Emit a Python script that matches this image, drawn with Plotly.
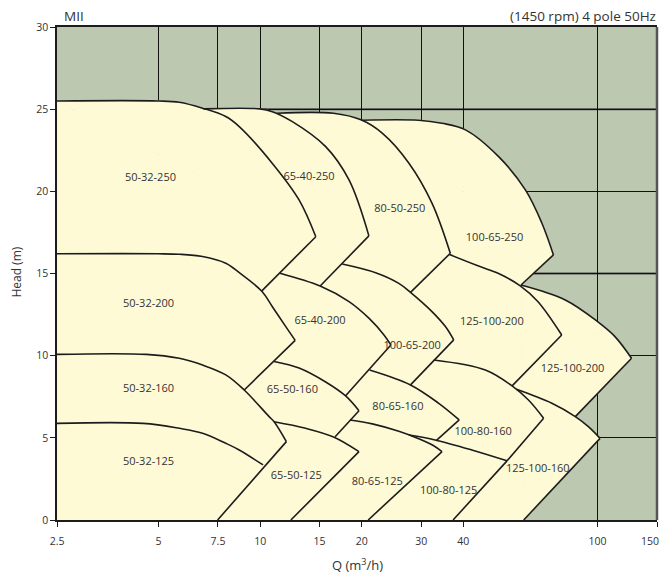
import math
import plotly.graph_objects as go

# ---------------- values (Q in m3/h, H in m) ----------------
# upper (max impeller) curve of each pump, ending at its chevron tip
top_50_32_250 = [(2.5, 25.5), (5.0, 25.5), (5.76, 25.42), (6.75, 25.06), (7.91, 24.55), (8.67, 23.94),
                 (10.87, 21.7), (13.04, 19.48), (14.62, 17.24)]
top_50_32_200 = [(2.5, 16.2), (5.0, 16.2), (5.76, 16.17), (6.75, 16.03), (7.91, 15.62), (8.67, 15.05),
                 (10.1, 13.93), (10.87, 12.98), (11.91, 11.77), (12.7, 10.93)]
top_50_32_160 = [(2.5, 10.08), (4.6, 10.08), (5.76, 9.84), (6.75, 9.43), (7.91, 8.83), (8.97, 7.91),
                 (10.63, 6.29), (11.0, 5.98), (11.96, 4.77)]
top_50_32_125 = [(2.5, 5.88), (4.5, 5.88), (5.76, 5.58), (6.75, 5.28), (7.91, 4.67), (8.67, 4.26), (10.2, 3.35)]

top_65_40_250 = [(6.8, 25.02), (9.97, 25.02), (10.87, 24.85), (12.46, 24.24), (15.64, 22.72), (18.34, 20.69),
                 (21.0, 17.29)]
top_65_40_200 = [(11.45, 15.02), (15.06, 14.24), (18.34, 13.29), (21.0, 12.28), (23.28, 11.26), (24.4, 10.65)]
top_65_50_160 = [(11.0, 9.65), (13.04, 9.25), (15.64, 8.4), (17.92, 7.55), (19.63, 6.65)]
top_65_50_125 = [(11.0, 5.98), (13.65, 5.58), (16.5, 5.05), (19.63, 4.16)]

top_80_50_250 = [(11.2, 24.75), (16.5, 24.75), (19.9, 24.35), (23.0, 23.54), (27.6, 21.71), (32.3, 19.28),
                 (36.6, 16.23)]
top_100_65_200 = [(17.51, 15.58), (21.99, 15.05), (25.76, 14.4), (27.9, 13.85), (32.3, 12.68), (35.4, 11.77),
                  (37.47, 10.96)]
top_80_65_160 = [(21.1, 9.13), (27.9, 8.22), (33.83, 7.1), (38.9, 6.09)]
top_80_65_125 = [(18.45, 6.09), (21.5, 5.85), (25.76, 5.4), (29.5, 4.95), (32.5, 4.55), (34.6, 4.16)]

top_100_65_250 = [(19.9, 24.33), (29.5, 24.33), (34.6, 24.14), (40.6, 23.74), (50.9, 22.11), (61.1, 20.09),
                  (68.4, 18.06), (74.0, 16.13)]
top_125_100_200a = [(36.4, 16.15), (44.4, 15.45), (50.9, 15.0), (59.0, 14.25), (66.5, 13.3), (78.3, 11.26)]
top_100_80_160 = [(32.7, 9.74), (46.5, 9.13), (55.8, 8.16), (62.4, 7.3), (69.2, 6.19)]
top_100_80_125 = [(27.6, 5.17), (33.0, 4.87), (42.4, 4.26), (53.9, 3.6)]

top_125_100_200b = [(59.3, 14.3), (80.2, 13.39), (100.0, 12.07), (112.6, 11.16), (126.1, 9.84)]
top_125_100_160 = [(57.5, 7.95), (73.2, 7.1), (85.9, 6.29), (93.9, 5.68), (101.7, 4.97)]

# straight chevron edges (from tip down-left)
low_50_32_250 = [(14.62, 17.24), (10.1, 13.93)]
low_50_32_200 = [(12.7, 10.93), (8.97, 7.91)]
low_50_32_160 = [(11.96, 4.77), (7.48, 0.0)]
low_65_40_250 = [(21.0, 17.29), (15.06, 14.24)]
low_65_40_200 = [(24.4, 10.65), (17.92, 7.56)]
low_65_50_160 = [(19.63, 6.65), (16.68, 5.07)]
low_65_50_125 = [(19.63, 4.16), (12.33, 0.0)]
low_80_50_250 = [(36.6, 16.23), (27.9, 13.85)]
low_100_65_200 = [(37.47, 10.96), (27.9, 8.22)]
low_80_65_160 = [(38.9, 6.09), (33.3, 4.85)]
low_80_65_125 = [(34.6, 4.16), (20.9, 0.0)]
low_100_65_250 = [(74.0, 16.13), (59.3, 14.3)]
low_125_100_200a = [(78.3, 11.26), (55.8, 8.16)]
low_100_80_160 = [(69.2, 6.19), (53.9, 3.6)]
low_100_80_125 = [(53.9, 3.6), (37.3, 0.0)]
low_125_100_200b = [(126.1, 9.84), (85.9, 6.29)]
low_125_100_160 = [(101.7, 4.97), (60.4, 0.0)]

label_names = ["50-32-250", "65-40-250", "80-50-250", "100-65-250",
               "50-32-200", "65-40-200", "100-65-200", "125-100-200", "125-100-200",
               "50-32-160", "65-50-160", "80-65-160", "100-80-160", "125-100-160",
               "50-32-125", "65-50-125", "80-65-125", "100-80-125"]
label_q = [4.73, 13.96, 25.94, 49.5, 4.67, 15.04, 28.2, 48.6, 84.3,
           4.67, 12.46, 25.6, 45.8, 66.5, 4.67, 12.8, 22.24, 36.2]
label_h = [20.82, 20.88, 18.91, 17.15, 13.13, 12.07, 10.59, 12.01, 9.19,
           7.97, 7.87, 6.84, 5.37, 3.1, 3.49, 2.68, 2.29, 1.72]

x_tick_values = [2.5, 5, 7.5, 10, 15, 20, 30, 40, 100, 150]
x_tick_labels = ["2.5", "5", "7.5", "10", "15", "20", "30", "40", "100", ""]
x_end_label = "150"   # last tick label: drawn just left of the axis end, as in the original
y_tick_values = [0, 5, 10, 15, 20, 25, 30]
Q_MIN, Q_MAX = 2.5, 150
H_MIN, H_MAX = 0, 30

# ---------------- styling ----------------
BG = "#BCC8B0"
YELLOW = "#FFFAD6"
INK = "#1C1C1C"
TXT = "#333333"
FONT = "Open Sans"
TICK_SIZE = 10.5

top_curves = [top_50_32_250, top_50_32_200, top_50_32_160, top_50_32_125,
              top_65_40_250, top_65_40_200, top_65_50_160, top_65_50_125,
              top_80_50_250, top_100_65_200, top_80_65_160, top_80_65_125,
              top_100_65_250, top_125_100_200a, top_100_80_160, top_100_80_125,
              top_125_100_200b, top_125_100_160]
low_lines = [low_50_32_250, low_50_32_200, low_50_32_160, low_65_40_250, low_65_40_200,
             low_65_50_160, low_65_50_125, low_80_50_250, low_100_65_200, low_80_65_160,
             low_80_65_125, low_100_65_250, low_125_100_200a, low_100_80_160, low_100_80_125,
             low_125_100_200b, low_125_100_160]


def xs(pts):
    return [p[0] for p in pts]


def ys(pts):
    return [p[1] for p in pts]


fig = go.Figure()

# ---- yellow area: caps (between outer curves and their chords) + chord polygons ----
outer_curves = [top_50_32_250, top_65_40_250, top_80_50_250, top_100_65_250,
                top_125_100_200b, top_125_100_160]
for c in outer_curves:
    fig.add_trace(go.Scatter(x=xs(c), y=ys(c), mode="lines", fill="toself", fillcolor=YELLOW,
                             line=dict(color=YELLOW, width=1, shape="spline"),
                             hoverinfo="skip", showlegend=False))


def under_chord(c):
    return [(c[0][0], H_MIN), c[0], c[-1], (c[-1][0], H_MIN)]


polys = [under_chord(top_50_32_250), under_chord(top_65_40_250), under_chord(top_80_50_250),
         [(top_100_65_250[0][0], H_MIN), top_100_65_250[0], top_100_65_250[-1],
          low_100_65_250[-1], low_125_100_160[-1]],
         [top_125_100_200b[0], top_125_100_200b[-1], low_125_100_200b[-1],
          top_125_100_160[-1], low_125_100_160[-1]]]
for p in polys:
    fig.add_trace(go.Scatter(x=xs(p), y=ys(p), mode="lines", fill="toself", fillcolor=YELLOW,
                             line=dict(color=YELLOW, width=1),
                             hoverinfo="skip", showlegend=False))

# ---- black outlines ----
for c in top_curves:
    fig.add_trace(go.Scatter(x=xs(c), y=ys(c), mode="lines",
                             line=dict(color=INK, width=1.6, shape="spline"),
                             hoverinfo="skip", showlegend=False))
for c in low_lines:
    fig.add_trace(go.Scatter(x=xs(c), y=ys(c), mode="lines",
                             line=dict(color=INK, width=1.6),
                             hoverinfo="skip", showlegend=False))

# ---- region labels ----
fig.add_trace(go.Scatter(x=label_q, y=label_h, mode="text", text=label_names,
                         textposition="middle center",
                         textfont=dict(family=FONT, size=11, color=TXT),
                         hoverinfo="skip", showlegend=False))

# ---- heavier grid lines and right border ----
for hv in (15, 25):
    fig.add_shape(type="line", xref="x domain", yref="y", x0=0, x1=1, y0=hv, y1=hv,
                  line=dict(color="#4A4A4A", width=2), layer="below")
fig.add_shape(type="line", xref="x domain", yref="y domain", x0=1, x1=1, y0=0, y1=1,
              line=dict(color="#555555", width=2.5), layer="above")

# the page adds an 8px body margin; keep the page from overflowing vertically
fig.update_layout(
    width=659, height=565,
    margin=dict(l=49, r=10, t=19, b=53),
    paper_bgcolor="white", plot_bgcolor=BG,
    font=dict(family=FONT, size=TICK_SIZE, color=TXT),
    showlegend=False,
    xaxis=dict(type="log", range=[math.log10(Q_MIN), math.log10(Q_MAX)],
               tickmode="array", tickvals=x_tick_values, ticktext=x_tick_labels,
               showgrid=True, gridcolor="#111111", gridwidth=1,
               showline=True, linecolor=INK, linewidth=1.5, mirror=True,
               ticks="outside", ticklen=5, tickcolor=INK, ticklabelstandoff=6,
               zeroline=False, automargin=False, tickfont=dict(size=TICK_SIZE, color=TXT)),
    yaxis=dict(range=[H_MIN, H_MAX], tickmode="array", tickvals=y_tick_values,
               showgrid=True, gridcolor="#111111", gridwidth=1,
               showline=True, linecolor=INK, linewidth=1.5,
               ticks="outside", ticklen=5, tickcolor=INK,
               zeroline=False, automargin=False, tickfont=dict(size=TICK_SIZE, color=TXT)),
    annotations=[
        dict(text="MII", xref="paper", yref="paper", x=0.008, y=1.0, yshift=0,
             xanchor="left", yanchor="bottom", showarrow=False,
             font=dict(family=FONT, size=13.5, color=TXT)),
        dict(text="(1450 rpm) 4 pole 50Hz", xref="paper", yref="paper", x=1.002, y=1.0, yshift=0,
             xanchor="right", yanchor="bottom", showarrow=False,
             font=dict(family=FONT, size=13.5, color=TXT)),
        dict(text="Head (m)", xref="paper", yref="paper", x=-0.069, y=0.503,
             xanchor="center", yanchor="middle", textangle=-90, showarrow=False,
             font=dict(family=FONT, size=12, color=TXT)),
        dict(text="Q (m<sup>3</sup>/h)", xref="paper", yref="paper", x=0.5, y=-0.09,
             xanchor="center", yanchor="middle", showarrow=False,
             font=dict(family=FONT, size=13, color=TXT)),
        dict(text=x_end_label, xref="paper", yref="paper", x=1.0, y=-0.0426, xshift=4,
             xanchor="right", yanchor="middle", showarrow=False,
             font=dict(family=FONT, size=TICK_SIZE, color=TXT)),
    ],
)

fig.write_html("out.html")
